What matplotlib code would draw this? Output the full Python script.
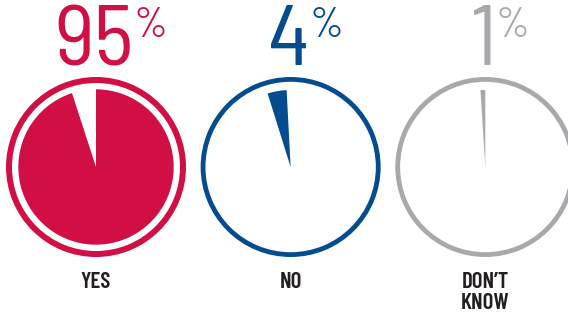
import matplotlib
matplotlib.use("Agg")
import matplotlib.pyplot as plt

# ---- data ----
categories = ["YES", "NO", "DON\u2019T\nKNOW"]
values = [95, 4, 1]
pct_labels = ["95", "4", "1"]

# ---- style ----
colors = ["#D10F44", "#034C8F", "#A8A9AD"]
label_color = "#231F20"
start_angles = [90, 93, 90]
counterclock = [False, True, True]
ring_widths = [6.0, 4.8, 4.8]
pie_radii = [77.7, 77.0, 77.0]
ring_outer = 90.0
W, H = 568, 313
cx0, dx, cy = 96.0, 194.65, 146.0
NUM_FONT = ["Barlow Semi Condensed", "DejaVu Sans"]
LAB_FONT = ["Barlow Condensed", "DejaVu Sans"]

fig = plt.figure(figsize=(W / 100, H / 100), dpi=100)
ax = fig.add_axes([0, 0, 1, 1])

for i, v in enumerate(values):
    cx = cx0 + i * dx
    # outer ring
    ax.pie([1], colors=[colors[i]], radius=ring_outer, center=(cx, cy),
           wedgeprops=dict(width=ring_widths[i], linewidth=0))
    # value wedge
    ax.pie([v, 100 - v], colors=[colors[i], "none"], radius=pie_radii[i],
           center=(cx, cy), startangle=start_angles[i],
           counterclock=counterclock[i], wedgeprops=dict(linewidth=0))

ax.set_xlim(0, W)
ax.set_ylim(0, H)
ax.set_aspect("equal")
ax.axis("off")

renderer = fig.canvas.get_renderer()
for i, (lab, cat) in enumerate(zip(pct_labels, categories)):
    cx = cx0 + i * dx
    t1 = ax.text(0, H - 65, lab, ha="right", va="baseline", fontsize=62,
                 color=colors[i], family=NUM_FONT, fontweight="normal")
    t2 = ax.text(0, H - 37, "%", ha="left", va="baseline", fontsize=30,
                 color=colors[i], family=NUM_FONT, fontweight="normal")
    w1 = t1.get_window_extent(renderer).width
    w2 = t2.get_window_extent(renderer).width
    jx = cx + 14.6 + (w1 - w2) / 2
    t1.set_x(jx)
    t2.set_x(jx)
    ax.text(cx, H - 271.5, cat, ha="center", va="top", fontsize=16.5,
            fontweight=600, color=label_color, family=LAB_FONT,
            linespacing=1.07, multialignment="center")

fig.savefig("out.png", dpi=100)
